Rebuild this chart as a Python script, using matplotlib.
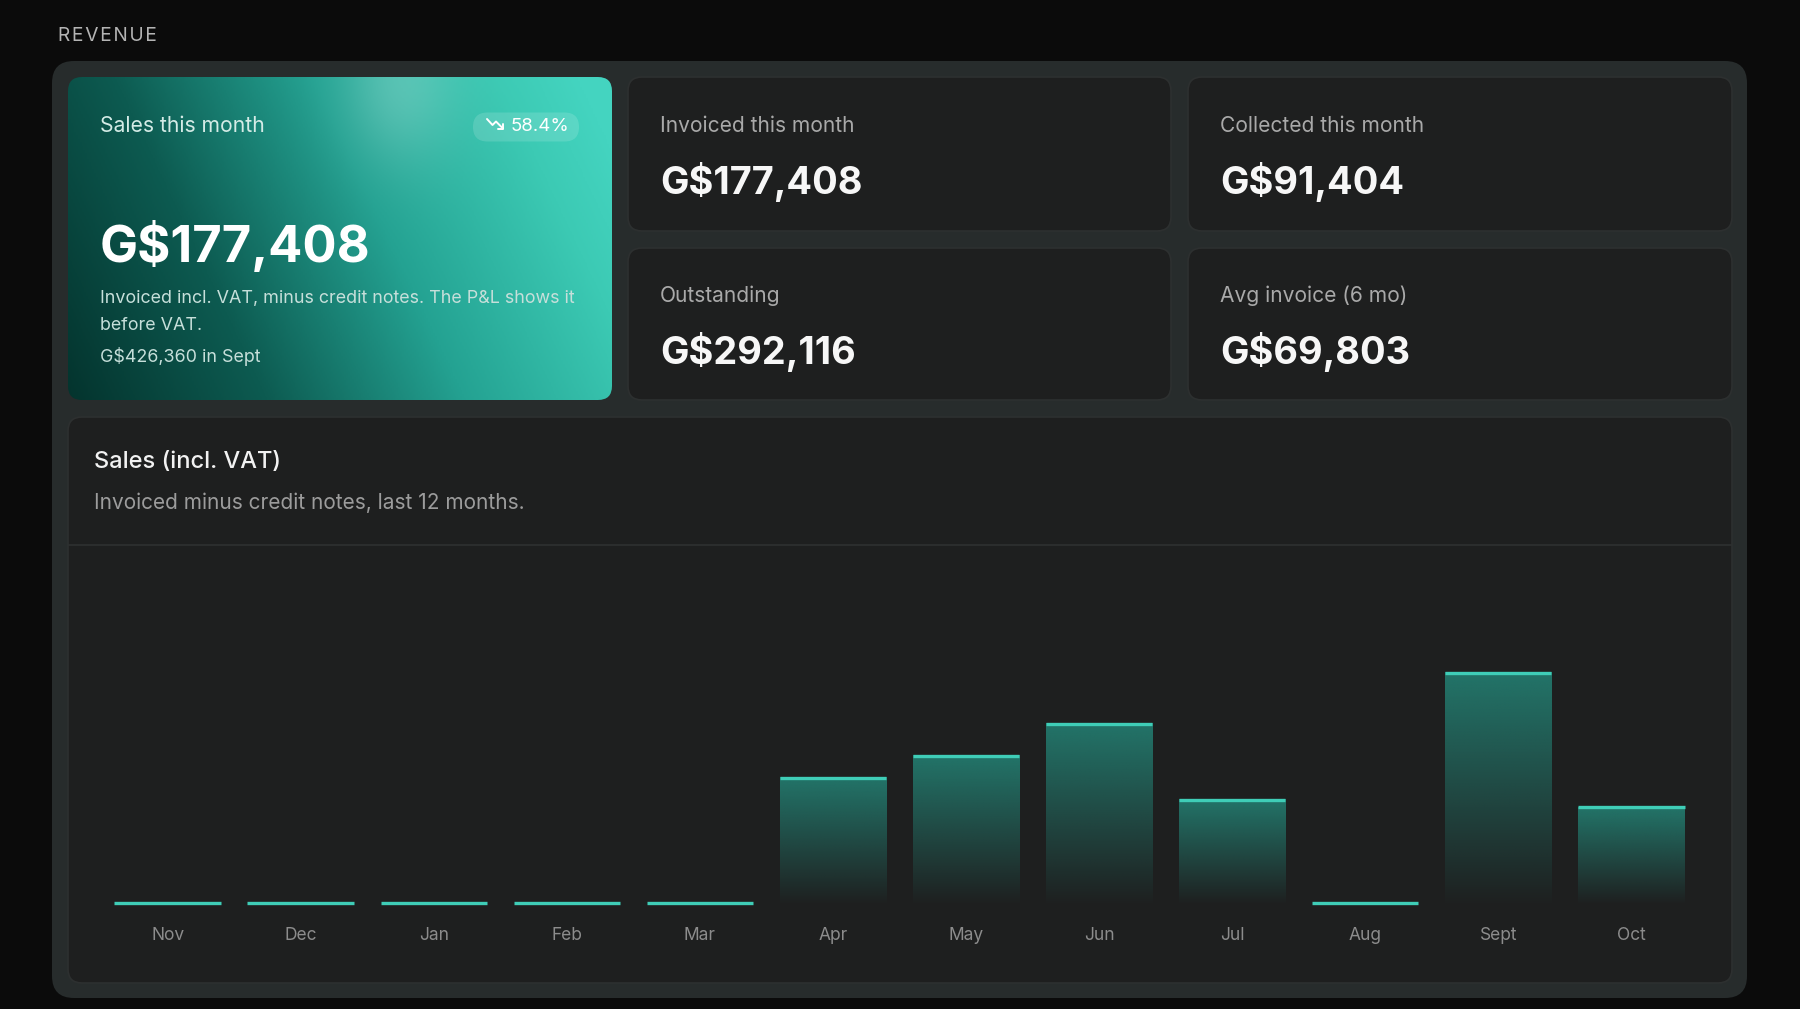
import numpy as np
import matplotlib
matplotlib.use('Agg')
import matplotlib.pyplot as plt
from matplotlib.patches import FancyBboxPatch
from matplotlib.colors import LinearSegmentedColormap, to_rgb

plt.rcParams['font.family'] = ['Inter', 'DejaVu Sans']

# Data
months = ['Nov', 'Dec', 'Jan', 'Feb', 'Mar', 'Apr', 'May', 'Jun', 'Jul', 'Aug', 'Sept', 'Oct']
sales = [0, 0, 0, 0, 0, 232300, 273000, 331800, 190900, 0, 426360, 177408]

kpi_labels = ['Invoiced this month', 'Collected this month', 'Outstanding', 'Avg invoice (6 mo)']
kpi_values = ['G$177,408', 'G$91,404', 'G$292,116', 'G$69,803']

hero_label = 'Sales this month'
hero_value = 'G$177,408'
hero_change = '58.4%'
hero_note = ['Invoiced incl. VAT, minus credit notes. The P&L shows it', 'before VAT.']
hero_sept = 'G$426,360 in Sept'

W, H = 1800, 1009
BG = '#0b0b0b'
PANEL = '#272c2c'
CARD = '#1e1f1f'
EDGE = '#2d3030'
TEAL = '#3fcdb7'

fig = plt.figure(figsize=(W / 100, H / 100), dpi=100, facecolor=BG)
ax = fig.add_axes([0, 0, 1, 1])
ax.set_xlim(0, W)
ax.set_ylim(H, 0)
ax.axis('off')


def rbox(x0, y0, x1, y1, r, fc, ec='none', lw=0, z=1):
    p = FancyBboxPatch((x0, y0), x1 - x0, y1 - y0,
                       boxstyle=f'round,pad=0,rounding_size={r}',
                       fc=fc, ec=ec, lw=lw, zorder=z)
    ax.add_patch(p)
    return p


# section label
ax.text(58.5, 36, '\u200a'.join('REVENUE'), color='#b4b4b4', fontsize=13.8,
        va='center', ha='left')

# outer panel
rbox(52, 61, 1747, 998, 22, PANEL, z=1)

# hero card with gradient
hero = rbox(68, 77, 612, 400, 14, 'none', z=2)
nx, ny = 300, 180
u = np.linspace(0, 1, nx)[None, :]
v = np.linspace(0, 1, ny)[:, None]
t = u + 0.28 * (1 - v)
cmap = LinearSegmentedColormap.from_list('hero', [
    (0.0, '#04342e'), (0.3, '#0d5b51'), (0.6, '#24a292'), (0.88, '#3ccab4'), (1.0, '#44d4c0')])
img = cmap(np.clip(t / 1.22, 0, 1))[:, :, :3]
# soft glow near the top
xs = 68 + u * (612 - 68)
ys = 77 + v * (400 - 77)
glow = np.exp(-((xs - 400) ** 2) / (2 * 40 ** 2) - ((ys - 85) ** 2) / (2 * 55 ** 2))
img = img + (1 - img) * 0.2 * glow[:, :, None]
im = ax.imshow(img, extent=(68, 612, 400, 77), aspect='auto', zorder=2, interpolation='bilinear')
im.set_clip_path(hero)

ax.text(100, 126, hero_label, color='#d4ebe6', fontsize=15.2, va='center', ha='left', zorder=5)
ax.text(100, 261.5, hero_value, color='white', fontsize=36.5, fontweight='bold', va='baseline', zorder=5)
ax.text(100, 303.5, hero_note[0], color='#c6dfda', fontsize=12.9, va='baseline', zorder=5)
ax.text(100, 329.5, hero_note[1], color='#c6dfda', fontsize=12.9, va='baseline', zorder=5)
ax.text(100, 361.5, hero_sept, color='#c6dfda', fontsize=12.9, va='baseline', zorder=5)

# change badge
pill = FancyBboxPatch((473, 112.5), 106, 29, boxstyle='round,pad=0,rounding_size=14.5',
                      fc=(1, 1, 1, 0.14), ec='none', zorder=4)
ax.add_patch(pill)
ax.plot([487, 492.5, 496, 503], [119, 125, 121.5, 128.5], color='white', lw=1.4,
        solid_joinstyle='round', solid_capstyle='round', zorder=5)
ax.plot([498, 503, 503], [128.5, 128.5, 123.5], color='white', lw=1.4,
        solid_joinstyle='round', solid_capstyle='round', zorder=5)
ax.text(511, 126.5, hero_change, color='white', fontsize=13.5, va='center', ha='left', zorder=5)

# kpi cards
cells = [(628, 77, 1171, 231), (1188, 77, 1732, 231),
         (628, 248, 1171, 400), (1188, 248, 1732, 400)]
for (x0, y0, x1, y1), lab, val in zip(cells, kpi_labels, kpi_values):
    rbox(x0, y0, x1, y1, 14, CARD, ec=EDGE, lw=1.2, z=2)
    ax.text(x0 + 32, y0 + 54.5, lab, color='#a9a9a9', fontsize=15.1, va='baseline', zorder=5)
    ax.text(x0 + 32, y0 + 116.5, val, color='#f7f7f7', fontsize=27.3, fontweight='bold',
            va='baseline', zorder=5)

# chart card
rbox(68, 417, 1732, 983, 14, CARD, ec=EDGE, lw=1.2, z=2)
ax.plot([69, 1731], [545, 545], color='#2e3131', lw=1.2, zorder=3)
ax.text(94, 468, 'Sales (incl. VAT)', color='#f2f2f2', fontsize=17, fontweight='medium',
        va='baseline', zorder=5)
ax.text(94, 509, 'Invoiced minus credit notes, last 12 months.', color='#9c9c9c', fontsize=15,
        va='baseline', zorder=5)

# bar chart
step = 133.06
left_px = 167.6 - step / 2
right_px = 1631.3 + step / 2
base_px, top_px = 903, 563
bax = fig.add_axes([left_px / W, (H - base_px) / H, (right_px - left_px) / W, (base_px - top_px) / H])
bax.patch.set_alpha(0)
x = np.arange(len(months))
bw = 0.8
ymax = 630000
bars = bax.bar(x, sales, width=bw, color='none', zorder=2)
rgb = np.array(to_rgb('#23796d'))
grad = np.zeros((100, 2, 4))
grad[:, :, :3] = rgb
grad[:, :, 3] = np.linspace(0.95, 0.02, 100)[:, None]
for b, s in zip(bars, sales):
    if s > 0:
        bax.imshow(grad, extent=(b.get_x(), b.get_x() + bw, 0, s), aspect='auto',
                   origin='upper', zorder=2, interpolation='bilinear')
bax.hlines(sales, x - bw / 2, x + bw / 2, colors=TEAL, lw=2.4, zorder=3, clip_on=False)
bax.set_xlim(-0.5, len(months) - 0.5)
bax.set_ylim(0, ymax)
bax.set_xticks(x)
bax.set_xticklabels(months, color='#8c8c8c', fontsize=12.5)
bax.tick_params(axis='x', length=0, pad=17)
bax.set_yticks([])
for sp in bax.spines.values():
    sp.set_visible(False)

fig.savefig('out.png', dpi=100, facecolor=BG)
